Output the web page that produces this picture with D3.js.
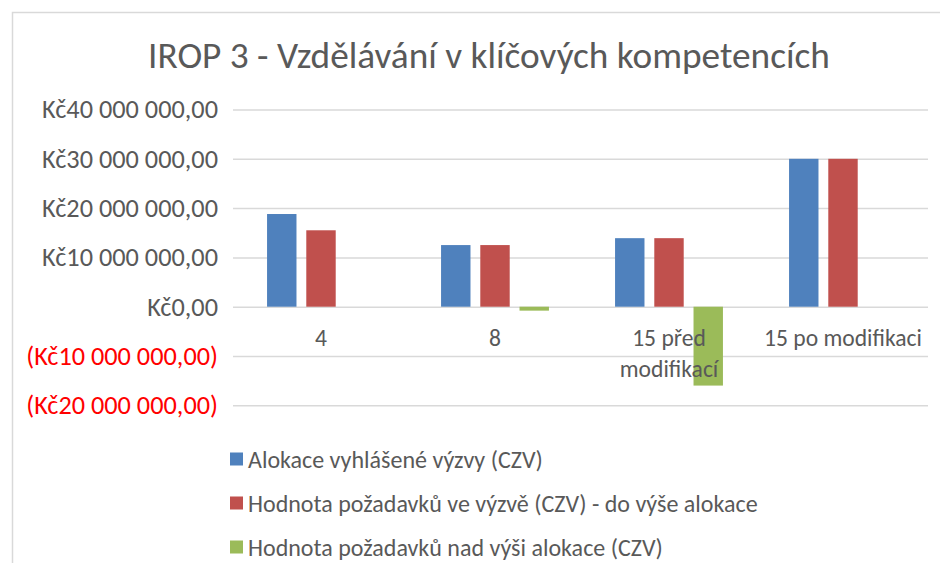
<!DOCTYPE html>
<html>
<head>
<meta charset="utf-8">
<style>
  body { margin: 0; background: #fff; }
  svg text { font-family: Carlito, Calibri, "Open Sans", "Noto Sans", sans-serif; }
</style>
</head>
<body>
<script src="https://cdn.jsdelivr.net/npm/d3@7"></script>
<svg id="chart" width="940" height="563"></svg>
<script>
// data
var categories = ["4", "8", "15 před modifikací", "15 po modifikaci"];
var seriesNames = [
  "Alokace vyhlášené výzvy (CZV)",
  "Hodnota požadavků ve výzvě (CZV) - do výše alokace",
  "Hodnota požadavků nad výši alokace (CZV)"
];
var alokace   = [18800000, 12500000, 13900000, 30000000];
var doVyse    = [15500000, 12500000, 13900000, 30000000];
var nadVysi   = [0, -800000, -16000000, 0];
var yTicks = [-20000000, -10000000, 0, 10000000, 20000000, 30000000, 40000000];
var colors = ["#4F81BD", "#C0504D", "#9BBB59"];

var title = "IROP 3 - Vzdělávání v klíčových kompetencích";

var values = [alokace, doVyse, nadVysi];

var svg = d3.select("#chart");
var textGray = "#595959";

// frame of the chart area (cut at the right / bottom like the screenshot)
svg.append("rect")
  .attr("x", 12.5).attr("y", 12.5)
  .attr("width", 1000).attr("height", 1000)
  .attr("fill", "#fff")
  .attr("stroke", "#d9d9d9")
  .attr("stroke-width", 1.5);

// helper: pick a font size so a string gets a given width
function fitSize(str, target, base, weight) {
  var t = svg.append("text").style("font-size", base + "px")
    .style("font-weight", weight || 400).text(str);
  var w = t.node().getComputedTextLength();
  t.remove();
  return base * target / w;
}

var loc = d3.formatLocale({decimal: ",", thousands: " ", grouping: [3], currency: ["Kč", ""]});
var num = loc.format(",.2f");
function kc(v) {
  return v < 0 ? "(Kč" + num(-v) + ")" : "Kč" + num(v);
}

var left = 233, right = 928;
var y = d3.scaleLinear().domain([-20000000, 40000000]).range([405.3, 109.5]);

var x0 = d3.scaleBand().domain(categories).range([234, 930])
  .paddingInner(0.38).paddingOuter(0.19);
var x1 = d3.scaleBand().domain(d3.range(3)).range([0, x0.bandwidth()])
  .paddingInner(0.25);

var axisSize = fitSize("Kč40 000 000,00", 176, 20);
var catSize = fitSize("15 po modifikaci", 158, 20);
var legSize = fitSize(seriesNames[1], 510, 20);

// title
var titleSize = fitSize(title, 682, 30, 300);
svg.append("text")
  .attr("x", 489).attr("y", 55)
  .attr("text-anchor", "middle")
  .attr("dominant-baseline", "central")
  .style("font-size", titleSize + "px")
  .style("font-weight", 300)
  .style("fill", textGray)
  .text(title);

// y axis with gridlines
var yAxis = svg.append("g")
  .attr("transform", "translate(" + left + ",0)")
  .call(d3.axisLeft(y).tickValues(yTicks).tickFormat(kc)
    .tickSize(-(right - left)).tickPadding(15));
yAxis.attr("font-family", null).attr("font-size", null);
yAxis.select(".domain").remove();
yAxis.selectAll(".tick line")
  .attr("stroke", "#d9d9d9")
  .attr("stroke-width", 1.5);
yAxis.selectAll(".tick text")
  .style("font-size", axisSize + "px")
  .attr("fill", function(d) { return d < 0 ? "#ff0000" : textGray; });

// bars
var groups = svg.append("g").selectAll("g")
  .data(categories)
  .enter().append("g")
  .attr("transform", function(d) { return "translate(" + x0(d) + ",0)"; });

groups.selectAll("rect")
  .data(function(d, i) { return values.map(function(s, k) { return {k: k, v: s[i]}; }); })
  .enter().append("rect")
  .attr("x", function(d) { return x1(d.k); })
  .attr("width", x1.bandwidth())
  .attr("y", function(d) { return y(Math.max(0, d.v)); })
  .attr("height", function(d) { return Math.abs(y(d.v) - y(0)); })
  .attr("fill", function(d) { return colors[d.k]; });

// category labels, wrapped when wider than the band step
var step = x0.step();
var catG = svg.append("g");
categories.forEach(function(c) {
  var cx = x0(c) + x0.bandwidth() / 2;
  var t = catG.append("text")
    .attr("x", cx)
    .attr("y", 338)
    .attr("text-anchor", "middle")
    .attr("dominant-baseline", "central")
    .style("font-size", catSize + "px")
    .style("fill", textGray)
    .text(c);
  if (t.node().getComputedTextLength() > step) {
    var words = c.split(" ");
    t.text(null);
    t.append("tspan").attr("x", cx).attr("y", 338).text(words.slice(0, 2).join(" "));
    t.append("tspan").attr("x", cx).attr("y", 369).text(words.slice(2).join(" "));
  }
});

// legend
var legend = svg.append("g").selectAll("g")
  .data(seriesNames)
  .enter().append("g")
  .attr("transform", function(d, i) { return "translate(230," + (459 + i * 44) + ")"; });
legend.append("rect")
  .attr("x", 0).attr("y", -6.5)
  .attr("width", 13).attr("height", 13)
  .attr("fill", function(d, i) { return colors[i]; });
legend.append("text")
  .attr("x", 18).attr("y", 0)
  .attr("dominant-baseline", "central")
  .style("font-size", legSize + "px")
  .style("fill", textGray)
  .text(function(d) { return d; });
</script>
</body>
</html>
